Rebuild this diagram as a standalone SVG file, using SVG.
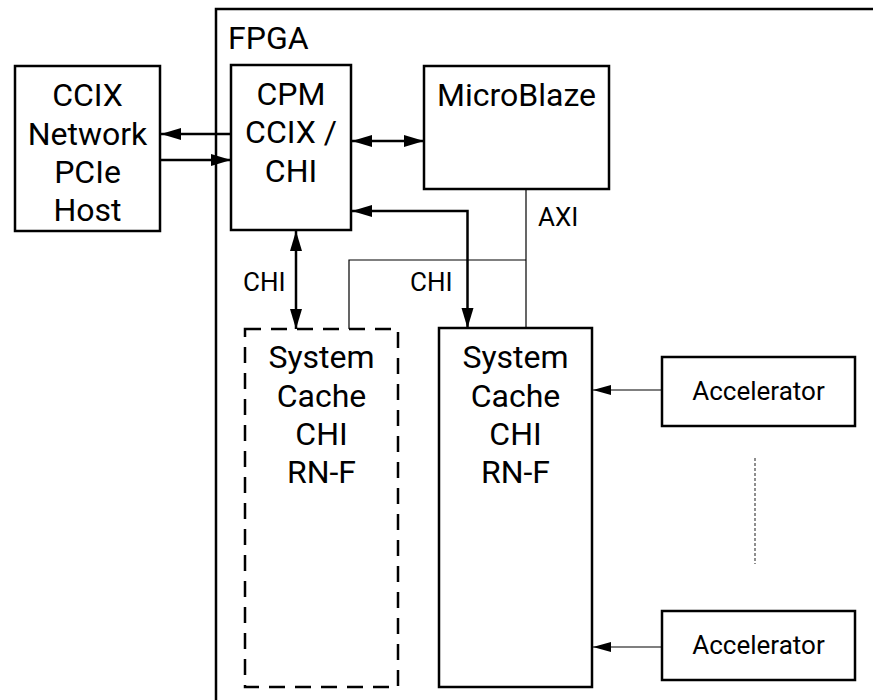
<svg xmlns="http://www.w3.org/2000/svg" width="873" height="700" viewBox="0 0 873 700">
<defs>
<style>
.box{fill:#fff;stroke:#000;stroke-width:2.5}
.t{font-family:Roboto,"Liberation Sans",sans-serif;font-size:32px;fill:#000;text-anchor:middle}
.s{font-family:Roboto,"Liberation Sans",sans-serif;font-size:26px;fill:#000}
.thick{fill:none;stroke:#000;stroke-width:2.5}
.thin{fill:none;stroke:#000;stroke-width:1.2}
</style>
<marker id="ah" markerUnits="userSpaceOnUse" markerWidth="22" markerHeight="14" refX="20" refY="6" orient="auto-start-reverse" viewBox="0 0 22 14">
<path d="M0,0 L20,6 L0,12 Z" fill="#000"/>
</marker>
<marker id="ahs" markerUnits="userSpaceOnUse" markerWidth="20" markerHeight="12" refX="18" refY="5" orient="auto" viewBox="0 0 20 12">
<path d="M0,0 L18,5 L0,10 Z" fill="#000"/>
</marker>
</defs>
<rect width="873" height="700" fill="#fff"/>
<g id="fpga">
<rect x="216" y="9" width="700" height="720" fill="none" stroke="#000" stroke-width="2.5"/>
<text x="228" y="49" class="t" style="text-anchor:start">FPGA</text>
</g>
<g id="host">
<rect class="box" x="15" y="66" width="145" height="165"/>
<text class="t" x="87.5" y="106">CCIX</text>
<text class="t" x="87.5" y="145">Network</text>
<text class="t" x="87.5" y="183">PCIe</text>
<text class="t" x="87.5" y="221">Host</text>
</g>
<g id="cpm">
<rect class="box" x="231" y="65" width="120" height="165"/>
<text class="t" x="291" y="105">CPM</text>
<text class="t" x="291" y="143">CCIX /</text>
<text class="t" x="291" y="182">CHI</text>
</g>
<g id="microblaze">
<rect class="box" x="424" y="66" width="185" height="123"/>
<text class="t" x="516.5" y="106">MicroBlaze</text>
</g>
<g id="cache1">
<rect x="245" y="329" width="153" height="358" fill="#fff" stroke="#000" stroke-width="2.5" stroke-dasharray="16,10"/>
<text class="t" x="321.5" y="368">System</text>
<text class="t" x="321.5" y="407">Cache</text>
<text class="t" x="321.5" y="445">CHI</text>
<text class="t" x="321.5" y="483">RN-F</text>
</g>
<g id="cache2">
<rect class="box" x="439" y="328" width="153" height="359"/>
<text class="t" x="515.5" y="368">System</text>
<text class="t" x="515.5" y="407">Cache</text>
<text class="t" x="515.5" y="445">CHI</text>
<text class="t" x="515.5" y="483">RN-F</text>
</g>
<g id="acc1">
<rect class="box" x="662" y="357" width="193" height="69"/>
<text class="s" x="758.5" y="400" text-anchor="middle">Accelerator</text>
</g>
<g id="acc2">
<rect class="box" x="662" y="611" width="193" height="69"/>
<text class="s" x="758.5" y="654" text-anchor="middle">Accelerator</text>
</g>
<g id="connectors">
<line class="thick" x1="231" y1="134" x2="161" y2="134" marker-end="url(#ah)"/>
<line class="thick" x1="160" y1="160" x2="231" y2="160" marker-end="url(#ah)"/>
<line class="thick" x1="352" y1="141" x2="424" y2="141" marker-start="url(#ah)" marker-end="url(#ah)"/>
<path class="thick" d="M352,211 H467.5 V328" marker-start="url(#ah)" marker-end="url(#ah)"/>
<line class="thick" x1="296" y1="231" x2="296" y2="329" marker-start="url(#ah)" marker-end="url(#ah)"/>
<path class="thin" d="M526,190 V328"/>
<path class="thin" d="M526,260 H349 V329"/>
<line class="thin" x1="662" y1="390" x2="593" y2="390" marker-end="url(#ahs)"/>
<line class="thin" x1="662" y1="647" x2="593" y2="647" marker-end="url(#ahs)"/>
<line x1="755" y1="458" x2="755" y2="564" stroke="#444" stroke-width="1.2" stroke-dasharray="3,2"/>
<text class="s" x="243" y="291">CHI</text>
<text class="s" x="410" y="291">CHI</text>
<text class="s" x="538" y="226">AXI</text>
</g>
</svg>
